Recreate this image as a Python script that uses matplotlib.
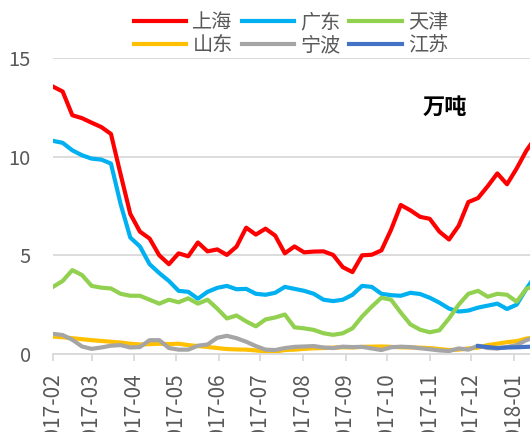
import matplotlib
matplotlib.use("Agg")
import matplotlib.pyplot as plt
import matplotlib.dates as mdates
import pandas as pd

plt.rcParams['font.family'] = ['Noto Sans CJK SC', 'DejaVu Sans']

# weekly data from 2017-02-01 (万吨)
dates = pd.date_range('2017-02-01', periods=51, freq='7D')

shanghai = [13.55, 13.3, 12.1, 11.95, 11.72, 11.5, 11.15, 9.1, 7.1, 6.2,
            5.85, 5.0, 4.55, 5.1, 4.95, 5.65, 5.2, 5.3, 5.02, 5.44,
            6.4, 6.05, 6.35, 6.0, 5.1, 5.45, 5.15, 5.19, 5.2, 5.02,
            4.4, 4.15, 5.0, 5.03, 5.25, 6.3, 7.55, 7.28, 6.95, 6.85,
            6.2, 5.8, 6.5, 7.7, 7.9, 8.5, 9.15, 8.6, 9.4, 10.3, 11.0]
guangdong = [10.8, 10.7, 10.32, 10.07, 9.9, 9.85, 9.65, 7.6, 5.9, 5.45,
             4.55, 4.1, 3.7, 3.2, 3.15, 2.8, 3.15, 3.35, 3.45, 3.28,
             3.3, 3.05, 3.0, 3.1, 3.4, 3.3, 3.2, 3.05, 2.75, 2.68,
             2.75, 3.0, 3.45, 3.4, 3.05, 2.98, 2.95, 3.1, 3.04, 2.85,
             2.6, 2.3, 2.15, 2.2, 2.35, 2.45, 2.55, 2.28, 2.5, 3.3, 4.0]
tianjin = [3.4, 3.7, 4.25, 4.0, 3.45, 3.36, 3.32, 3.05, 2.95, 2.95,
           2.75, 2.55, 2.75, 2.62, 2.82, 2.55, 2.75, 2.3, 1.8, 1.95,
           1.65, 1.4, 1.75, 1.85, 2.0, 1.35, 1.3, 1.22, 1.05, 0.97,
           1.05, 1.3, 1.9, 2.4, 2.85, 2.75, 2.1, 1.5, 1.23, 1.1,
           1.2, 1.8, 2.5, 3.05, 3.2, 2.9, 3.05, 3.0, 2.65, 3.3, 3.5]
shandong = [0.88, 0.85, 0.8, 0.75, 0.7, 0.66, 0.62, 0.58, 0.52, 0.48,
            0.5, 0.52, 0.5, 0.52, 0.45, 0.4, 0.36, 0.3, 0.25, 0.23,
            0.22, 0.18, 0.13, 0.12, 0.2, 0.22, 0.26, 0.29, 0.3, 0.32,
            0.34, 0.33, 0.36, 0.37, 0.38, 0.36, 0.34, 0.33, 0.32, 0.3,
            0.25, 0.2, 0.22, 0.28, 0.32, 0.45, 0.52, 0.6, 0.65, 0.78, 0.85]
ningbo = [1.02, 0.96, 0.72, 0.38, 0.26, 0.33, 0.42, 0.45, 0.33, 0.35,
          0.7, 0.7, 0.3, 0.22, 0.22, 0.42, 0.48, 0.82, 0.92, 0.8,
          0.62, 0.4, 0.22, 0.2, 0.3, 0.36, 0.38, 0.4, 0.33, 0.3,
          0.37, 0.35, 0.36, 0.28, 0.2, 0.34, 0.37, 0.35, 0.29, 0.24,
          0.18, 0.15, 0.28, 0.22, 0.42, 0.3, 0.28, 0.35, 0.45, 0.7, 0.85]
# 江苏 only starts in December
jiangsu = [0.4, 0.35, 0.3, 0.33, 0.34, 0.36, 0.38]
jiangsu_dates = dates[44:]

fig = plt.figure(figsize=(5.3, 4.32), dpi=100)
ax = fig.add_axes([0.1, 0.1806, 0.9, 0.6852])

lw = 3
l1, = ax.plot(dates, shanghai, color='#FF0000', lw=lw, label='上海')
l2, = ax.plot(dates, guangdong, color='#00B0F0', lw=lw, label='广东')
l3, = ax.plot(dates, tianjin, color='#92D050', lw=lw, label='天津')
l4, = ax.plot(dates, shandong, color='#FFC000', lw=lw, label='山东')
l5, = ax.plot(dates, ningbo, color='#A5A5A5', lw=lw, label='宁波')
l6, = ax.plot(jiangsu_dates, jiangsu, color='#4472C4', lw=lw, label='江苏')

ax.set_ylim(0, 15)
ax.set_yticks([0, 5, 10, 15])
ax.set_xlim(pd.Timestamp('2017-02-01'), pd.Timestamp('2018-01-12 16:00'))
ax.xaxis.set_major_locator(mdates.MonthLocator())
ax.xaxis.set_major_formatter(mdates.DateFormatter('%Y-%m'))

ax.grid(axis='y', color='#D9D9D9', lw=1.3)
ax.set_axisbelow(True)
for s in ['top', 'right', 'left']:
    ax.spines[s].set_visible(False)
ax.spines['bottom'].set_color('#D9D9D9')
ax.spines['bottom'].set_linewidth(1.3)
ax.tick_params(axis='y', length=0, pad=16, labelsize=14.5, labelcolor='#595959')
ax.tick_params(axis='x', length=5, width=1.3, color='#D9D9D9', pad=9,
               labelsize=15, labelcolor='#595959', labelrotation=90)

ax.text(445 / 530, 1 - 107 / 432, '万吨', transform=fig.transFigure,
        fontsize=16, fontweight='bold', ha='center', va='center')

# excel style legend: fill by rows
handles = [l1, l4, l2, l5, l3, l6]
fig.legend(handles, [h.get_label() for h in handles], ncol=3,
           loc='upper center', bbox_to_anchor=(291 / 530, 1.0),
           frameon=False, fontsize=14.5, handlelength=2.6, handletextpad=0.3,
           columnspacing=0.45, labelspacing=0.1, borderpad=0.1,
           labelcolor='#595959')

fig.savefig('out.png', dpi=100)
